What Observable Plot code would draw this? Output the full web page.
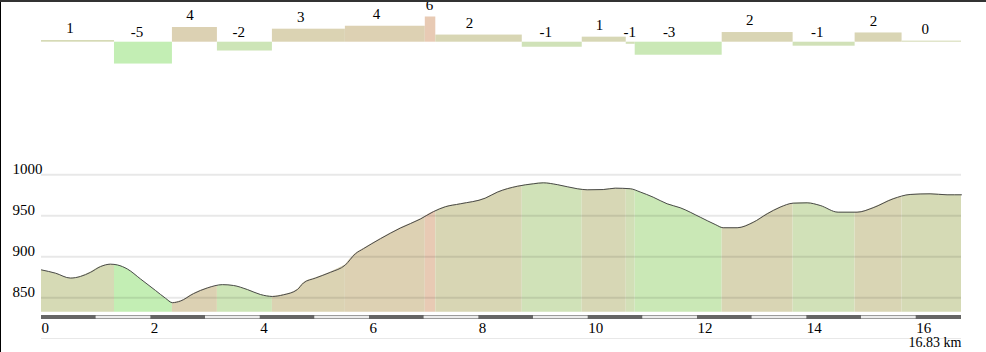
<!DOCTYPE html>
<html><head><meta charset="utf-8">
<script src="https://cdn.jsdelivr.net/npm/d3@7"></script>
<script src="https://cdn.jsdelivr.net/npm/@observablehq/plot@0.6"></script>
<style>
html,body{margin:0;padding:0;background:#fff;}
#wrap{position:relative;width:986px;height:352px;overflow:hidden;font-family:"Times New Roman","Liberation Serif",serif;}
#wrap svg{display:block;position:absolute;left:0;}
.topbar{position:absolute;left:0;top:0;width:986px;height:2px;background:#333;z-index:5;}
.leftbar{position:absolute;left:0;top:2px;width:1px;height:350px;background:#000;z-index:5;}
.endline{position:absolute;left:41px;width:920px;top:337.5px;height:1.5px;background:#e8e8e8;}
</style></head><body><div id="wrap"><div class="topbar"></div><div class="leftbar"></div><div class="endline"></div></div>
<script>
// ---- data ----
const totalKm = 16.83;
const segBounds = [0, 1.335, 2.395, 3.218, 4.224, 5.559, 7.021, 7.213, 8.795, 9.892, 10.697, 10.861, 12.452, 13.750, 14.884, 15.743, 16.83];
const segGrades = [0.4, -5.2, 3.5, -2.1, 3.1, 3.8, 6.0, 1.7, -1.2, 1.2, -0.5, -3.1, 2.3, -0.95, 2.2, 0.25];
const segLabels = ["1", "-5", "4", "-2", "3", "4", "6", "2", "-1", "1", "-1", "-3", "2", "-1", "2", "0"];
const profileKm = [0, 0.256, 0.530, 0.713, 0.896, 1.079, 1.262, 1.390, 1.573, 1.810, 2.084, 2.267, 2.395, 2.542, 2.779, 3.035, 3.310, 3.511, 3.767, 4.004, 4.224, 4.425, 4.681, 4.791, 5.010, 5.284, 5.559, 5.741, 5.888, 6.199, 6.564, 6.930, 7.168, 7.387, 7.661, 8.118, 8.338, 8.704, 8.996, 9.179, 9.435, 9.801, 9.983, 10.276, 10.496, 10.770, 10.953, 11.190, 11.446, 11.684, 12.050, 12.324, 12.470, 12.726, 13.019, 13.275, 13.512, 13.750, 14.006, 14.244, 14.573, 14.920, 15.213, 15.579, 15.890, 16.255, 16.566, 16.83];
const profileElev = [884, 880, 874, 876, 881, 888, 891, 890, 885, 873, 859, 849.5, 844, 846, 855, 862, 866, 865, 860, 854, 851.6, 853.6, 860, 868, 874, 881, 890, 903.6, 909.8, 922, 935, 946, 955, 961, 964.6, 971.5, 978.8, 986, 989, 990.2, 988, 983, 981.7, 982, 983.7, 983, 979, 972.7, 964.6, 959.8, 948.3, 939.4, 935.4, 935.4, 942, 952.4, 960.5, 965.4, 965.8, 962.6, 954.4, 954.4, 959.8, 970.7, 976, 976.8, 975.6, 975.6];
const yTicks = [850, 900, 950, 1000];
const xTicks = [0, 2, 4, 6, 8, 10, 12, 14, 16];
const elevBase = 832.4;

// ---- derived tables ----
const segs = segGrades.map((g, i) => ({start: segBounds[i], end: segBounds[i + 1], grade: g, label: segLabels[i]}));
const profile = profileKm.map((k, i) => ({km: k, elev: profileElev[i]}));
const elevAt = (k) => {
  const i = d3.bisectLeft(profileKm, k);
  if (i <= 0) return profileElev[0];
  if (i >= profileKm.length) return profileElev[profileElev.length - 1];
  const k0 = profileKm[i - 1], k1 = profileKm[i];
  const t = (k - k0) / (k1 - k0);
  return profileElev[i - 1] + t * (profileElev[i] - profileElev[i - 1]);
};
const areaPts = [];
segs.forEach((s, i) => {
  areaPts.push({km: s.start, elev: elevAt(s.start), seg: i, grade: s.grade});
  profile.filter(p => p.km > s.start && p.km < s.end).forEach(p => areaPts.push({...p, seg: i, grade: s.grade}));
  areaPts.push({km: s.end, elev: elevAt(s.end), seg: i, grade: s.grade});
});
const kmSegs = d3.range(0, Math.ceil(totalKm)).map(k => ({s: k, e: Math.min(k + 1, totalKm), even: k % 2 === 0}));

// ---- styling ----
const font = "'Times New Roman', 'Liberation Serif', serif";
const X = {domain: [0, totalKm], range: [41, 961]};
const colorScale = {type: "linear", domain: [-5.2, -1.1, 0.5, 3.3, 6], range: ["#c3eeb4", "#d0e2b8", "#d6d9b5", "#dbd2b3", "#e8cab4"], interpolate: "rgb"};
const wrap = document.getElementById("wrap");

// grade bars
const p1 = Plot.plot({
  width: 986, height: 150, margin: 0,
  x: {...X, axis: null},
  y: {domain: [-10, 10], range: [83.7, -0.3], axis: null},
  color: colorScale,
  style: {fontFamily: font, fontSize: "15px", background: "transparent", color: "#000"},
  marks: [
    Plot.rect(segs, {x1: "start", x2: "end", y1: 0, y2: "grade", fill: "grade"}),
    Plot.text(segs.filter(d => d.grade >= 0), {x: d => d.start + 0.39 * (d.end - d.start), y: "grade", text: "label", dy: -12, fontSize: 15}),
    Plot.text(segs.filter(d => d.grade < 0), {x: d => d.start + 0.39 * (d.end - d.start), y: 0, text: "label", dy: -10, fontSize: 15})
  ]
});
p1.style.top = "0px";
wrap.appendChild(p1);

// elevation profile
const p2 = Plot.plot({
  width: 986, height: 163, margin: 0,
  x: {...X, axis: null},
  y: {domain: [elevBase, 1000], range: [161.7, 24.3], axis: null},
  color: colorScale,
  style: {fontFamily: font, fontSize: "15px", background: "transparent", color: "#000"},
  marks: [
    Plot.areaY(areaPts, {x: "km", y1: elevBase, y2: "elev", z: "seg", fill: "grade", curve: "monotone-x"}),
    Plot.ruleY(yTicks, {x1: 0, x2: totalKm, stroke: "#000", strokeOpacity: 0.09, strokeWidth: 2}),
    Plot.lineY(profile, {x: "km", y: "elev", stroke: "#4a4a4a", strokeWidth: 1, curve: "monotone-x"}),
    Plot.axisY(yTicks, {anchor: "left", tickSize: 0, tickPadding: 0, textAnchor: "start", dx: 12, dy: -6, label: null, fontSize: 15, tickFormat: d => String(d)})
  ]
});
p2.style.top = "150px";
wrap.appendChild(p2);

// distance strip and axis
const p3 = Plot.plot({
  width: 986, height: 39, marginTop: 2, marginBottom: 33, marginLeft: 0, marginRight: 0,
  x: {...X},
  style: {fontFamily: font, fontSize: "15px", background: "transparent", color: "#000"},
  marks: [
    Plot.rect([{s: 0, e: totalKm}], {x1: "s", x2: "e", fill: "#9c9c9c"}),
    Plot.rect(kmSegs.filter(d => d.even), {x1: "s", x2: "e", fill: "#666"}),
    Plot.rect(kmSegs.filter(d => !d.even), {x1: "s", x2: "e", fill: "#fff", insetTop: 1.2, insetBottom: 1.2}),
    Plot.axisX(xTicks, {anchor: "bottom", tickSize: 0, tickPadding: 3, textAnchor: "start", label: null, fontSize: 15, tickFormat: d => String(d)}),
    Plot.text([totalKm], {x: d => d, text: d => `${d} km`, textAnchor: "end", frameAnchor: "bottom", lineAnchor: "top", dy: 18, fontSize: 14})
  ]
});
p3.style.top = "313px";
wrap.appendChild(p3);
</script></body></html>
